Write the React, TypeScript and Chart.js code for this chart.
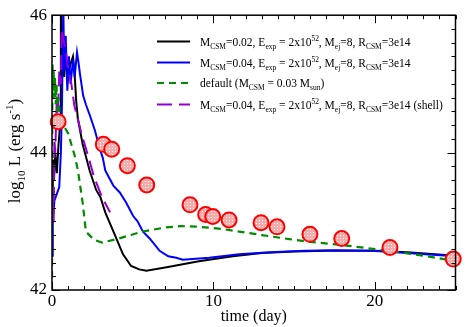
import React, { useEffect, useRef } from 'react';
import { Chart, registerables } from 'chart.js';
Chart.register(...registerables);

// ---- data ----
const obsT = [0.38, 3.18, 3.7, 4.67, 5.87, 8.55, 9.52, 9.96, 10.97, 12.95, 13.94, 15.98, 17.95, 20.94, 24.86];
const obsL = [44.45, 44.12, 44.05, 43.81, 43.53, 43.24, 43.10, 43.07, 43.02, 42.98, 42.92, 42.81, 42.75, 42.62, 42.45];

const blackT = [0, 0.05, 0.12, 0.2, 0.3, 0.4, 0.5, 0.55, 0.6, 0.65, 0.75, 0.85, 1.0, 1.1, 1.3, 1.4, 1.5, 1.6, 1.9, 2.33, 2.73, 3.0, 3.3, 3.9, 4.4, 4.9, 5.4, 5.85, 7.1, 9.1, 11.2, 13, 15, 17, 20, 22, 25];
const blackL = [43.0, 43.9, 43.6, 44.0, 43.7, 44.1, 44.4, 46.2, 45.0, 45.6, 45.1, 45.35, 45.1, 45.25, 45.4, 45.15, 44.75, 44.5, 44.12, 43.74, 43.46, 43.35, 43.13, 42.8, 42.52, 42.35, 42.3, 42.28, 42.33, 42.42, 42.49, 42.54, 42.56, 42.57, 42.57, 42.55, 42.5];

const blueT = [0, 0.05, 0.15, 0.3, 0.45, 0.55, 0.62, 0.7, 0.75, 0.85, 0.95, 1.05, 1.15, 1.3, 1.4, 1.55, 1.65, 1.73, 1.93, 2.1, 2.35, 2.65, 2.96, 3.15, 3.3, 3.8, 4.2, 4.6, 5.02, 5.3, 5.64, 6.05, 6.67, 7.2, 7.7, 8.1, 8.7, 9.75, 11.6, 13.5, 15.7, 17.5, 19.8, 22, 25];
const blueL = [42.5, 43.0, 43.3, 43.4, 43.5, 44.0, 44.7, 46.2, 45.2, 45.7, 44.9, 45.4, 45.0, 45.35, 45.1, 45.46, 45.3, 45.15, 44.83, 44.7, 44.54, 44.33, 44.06, 43.92, 43.74, 43.52, 43.42, 43.27, 43.08, 43.0, 42.85, 42.75, 42.57, 42.49, 42.47, 42.44, 42.45, 42.47, 42.52, 42.55, 42.57, 42.58, 42.57, 42.54, 42.49];

const greenT = [0, 0.01, 0.03, 0.06, 0.1, 0.14, 0.18, 0.23, 0.28, 0.33, 0.4, 0.5, 0.7, 1.0, 1.4, 1.6, 1.9, 2.1, 2.6, 3.1, 4.0, 5.6, 7.0, 8.0, 9.1, 10.5, 11.6, 13, 14.7, 16, 17.8, 19.5, 20.9, 23, 25];
const greenL = [42.0, 44.0, 45.3, 44.9, 45.2, 44.8, 45.1, 44.7, 45.0, 44.6, 44.8, 44.5, 44.4, 44.28, 43.96, 43.75, 43.27, 42.85, 42.73, 42.69, 42.74, 42.85, 42.91, 42.93, 42.92, 42.89, 42.85, 42.8, 42.74, 42.7, 42.66, 42.61, 42.57, 42.5, 42.42];

const purpleT = [0, 0.05, 0.1, 0.15, 0.2, 0.3, 0.35, 0.45, 0.55, 0.6, 0.75, 0.85, 1.0, 1.2, 1.38, 1.8, 2.2, 2.6, 2.85, 3.1, 3.6];
const purpleL = [42.6, 43.3, 43.0, 44.2, 44.0, 44.8, 44.4, 45.2, 45.0, 45.8, 45.6, 45.5, 45.2, 45.0, 44.69, 44.3, 43.98, 43.65, 43.5, 43.35, 43.13];

const xMajorTicks = [0, 10, 20];
const yMajorTicks = [42, 44, 46];
const xMin = 0, xMax = 25, xMinorStep = 1;
const yMin = 42, yMax = 46, yMinorStep = 0.2;

type Seg = { t: string; k?: 'sub' | 'sup' };
const legendRows: { color: string; dash: number[]; segs: Seg[] }[] = [
  { color: '#000000', dash: [], segs: [{ t: 'M' }, { t: 'CSM', k: 'sub' }, { t: '=0.02, E' }, { t: 'exp', k: 'sub' }, { t: ' = 2x10' }, { t: '52', k: 'sup' }, { t: ', M' }, { t: 'ej', k: 'sub' }, { t: '=8, R' }, { t: 'CSM', k: 'sub' }, { t: '=3e14' }] },
  { color: '#0000ff', dash: [], segs: [{ t: 'M' }, { t: 'CSM', k: 'sub' }, { t: '=0.04, E' }, { t: 'exp', k: 'sub' }, { t: ' = 2x10' }, { t: '52', k: 'sup' }, { t: ', M' }, { t: 'ej', k: 'sub' }, { t: '=8, R' }, { t: 'CSM', k: 'sub' }, { t: '=3e14' }] },
  { color: '#008b00', dash: [7, 5], segs: [{ t: 'default (M' }, { t: 'CSM', k: 'sub' }, { t: ' = 0.03 M' }, { t: 'sun', k: 'sub' }, { t: ')' }] },
  { color: '#9400d3', dash: [15, 7], segs: [{ t: 'M' }, { t: 'CSM', k: 'sub' }, { t: '=0.04, E' }, { t: 'exp', k: 'sub' }, { t: ' = 2x10' }, { t: '52', k: 'sup' }, { t: ', M' }, { t: 'ej', k: 'sub' }, { t: '=8, R' }, { t: 'CSM', k: 'sub' }, { t: '=3e14 (shell)' }] },
];
const yTitle: Seg[] = [{ t: 'log' }, { t: '10', k: 'sub' }, { t: ' L (erg s' }, { t: '-1', k: 'sup' }, { t: ')' }];
const xTitle = 'time (day)';

const FAMILY = '"Liberation Serif", "Times New Roman", serif';

function richWidth(ctx: CanvasRenderingContext2D, segs: Seg[], size: number) {
  let w = 0;
  for (const s of segs) {
    ctx.font = `${s.k ? size * 0.65 : size}px ${FAMILY}`;
    w += ctx.measureText(s.t).width;
  }
  return w;
}
function drawRich(ctx: CanvasRenderingContext2D, segs: Seg[], x: number, y: number, size: number) {
  let cx = x;
  for (const s of segs) {
    const fs = s.k ? size * 0.65 : size;
    ctx.font = `${fs}px ${FAMILY}`;
    const dy = s.k === 'sub' ? size * 0.3 : s.k === 'sup' ? -size * 0.42 : 0;
    ctx.fillText(s.t, cx, y + dy);
    cx += ctx.measureText(s.t).width;
  }
}

const pair = (t: number[], l: number[]) => t.map((v, i) => ({ x: v, y: l[i] }));

export default function App() {
  const ref = useRef<HTMLCanvasElement>(null);
  useEffect(() => {
    document.body.style.margin = '0';
    const canvas = ref.current!;
    const pc = document.createElement('canvas');
    pc.width = 3; pc.height = 3;
    const pctx = pc.getContext('2d')!;
    pctx.fillStyle = '#f6aaaa';
    pctx.fillRect(0, 0, 3, 3);
    pctx.fillStyle = '#ffffff';
    pctx.fillRect(1, 1, 1, 1);
    const pattern = canvas.getContext('2d')!.createPattern(pc, 'repeat');

    const decor = {
      id: 'decor',
      afterDatasetsDraw(chart: any) {
        const { ctx, chartArea: a, scales } = chart;
        const x = scales.x, y = scales.y;
        ctx.save();
        ctx.strokeStyle = '#000';
        ctx.lineWidth = 1;
        ctx.beginPath();
        for (let v = xMin; v <= xMax + 1e-9; v += xMinorStep) {
          const px = Math.round(x.getPixelForValue(v)) + 0.5;
          const len = xMajorTicks.includes(v) ? 8 : 4;
          ctx.moveTo(px, a.bottom); ctx.lineTo(px, a.bottom - len);
          ctx.moveTo(px, a.top); ctx.lineTo(px, a.top + len);
        }
        const n = Math.round((yMax - yMin) / yMinorStep);
        for (let i = 0; i <= n; i++) {
          const v = yMin + i * yMinorStep;
          const py = Math.round(y.getPixelForValue(v)) + 0.5;
          const len = i % 10 === 0 ? 8 : 4;
          ctx.moveTo(a.left, py); ctx.lineTo(a.left + len, py);
          ctx.moveTo(a.right, py); ctx.lineTo(a.right - len, py);
        }
        ctx.stroke();
        ctx.lineWidth = 1.5;
        ctx.strokeRect(a.left, a.top, a.right - a.left, a.bottom - a.top);

        // legend
        const rowsY = [41.5, 62.5, 83, 104.5];
        ctx.fillStyle = '#000';
        ctx.textBaseline = 'alphabetic';
        legendRows.forEach((r, i) => {
          const yy = rowsY[i];
          ctx.beginPath();
          ctx.strokeStyle = r.color;
          ctx.lineWidth = 2;
          ctx.setLineDash(r.dash);
          ctx.moveTo(157, yy); ctx.lineTo(190, yy);
          ctx.stroke();
          ctx.setLineDash([]);
          drawRich(ctx, r.segs, 200, yy + 4, 11.5);
        });

        // titles
        ctx.fillStyle = '#000';
        ctx.font = `16px ${FAMILY}`;
        ctx.textAlign = 'center';
        ctx.textBaseline = 'middle';
        ctx.fillText(xTitle, (a.left + a.right) / 2, 317);
        ctx.textAlign = 'left';
        ctx.textBaseline = 'alphabetic';
        const w = richWidth(ctx, yTitle, 17);
        ctx.translate(20, 151);
        ctx.rotate(-Math.PI / 2);
        drawRich(ctx, yTitle, -w / 2, 0, 17);
        ctx.restore();
      },
    };

    const lineDs = (label: string, t: number[], l: number[], color: string, dash: number[], width: number) => ({
      label,
      data: pair(t, l),
      borderColor: color,
      backgroundColor: color,
      borderWidth: width,
      borderDash: dash,
      pointRadius: 0,
      tension: 0,
      fill: false,
    });

    const chart = new Chart(canvas, {
      type: 'line',
      data: {
        datasets: [
          {
            label: 'obs',
            data: pair(obsT, obsL),
            showLine: false,
            pointRadius: 7.5,
            pointBorderWidth: 2,
            pointBorderColor: '#ff0000',
            pointBackgroundColor: pattern as any,
            borderColor: '#ff0000',
            backgroundColor: pattern as any,
            clip: false as any,
          } as any,
          lineDs('green', greenT, greenL, '#008b00', [7, 5], 2.2),
          lineDs('purple', purpleT, purpleL, '#9400d3', [15, 7], 2),
          lineDs('blue', blueT, blueL, '#0000ff', [], 2),
          lineDs('black', blackT, blackL, '#000000', [], 2),
        ],
      },
      options: {
        animation: false,
        responsive: true,
        maintainAspectRatio: false,
        layout: { padding: { top: 7, right: 9, left: 0, bottom: 0 } },
        plugins: { legend: { display: false }, tooltip: { enabled: false } },
        scales: {
          x: {
            type: 'linear',
            min: xMin,
            max: xMax,
            grid: { display: false, drawTicks: false },
            border: { display: false },
            afterBuildTicks: (s: any) => { s.ticks = xMajorTicks.map((v) => ({ value: v })); },
            afterFit: (s: any) => { s.height = 37; },
            ticks: { color: '#000', font: { family: FAMILY, size: 17 }, padding: 1, maxRotation: 0, autoSkip: false },
          },
          y: {
            type: 'linear',
            min: yMin,
            max: yMax,
            grid: { display: false, drawTicks: false },
            border: { display: false },
            afterBuildTicks: (s: any) => { s.ticks = yMajorTicks.map((v) => ({ value: v })); },
            afterFit: (s: any) => { s.width = 52; },
            ticks: { color: '#000', font: { family: FAMILY, size: 17 }, padding: 5, autoSkip: false },
          },
        },
      },
      plugins: [decor],
    });
    return () => chart.destroy();
  }, []);
  return (
    <div style={{ width: 465, height: 327, position: 'relative' }}>
      <canvas ref={ref} />
    </div>
  );
}
